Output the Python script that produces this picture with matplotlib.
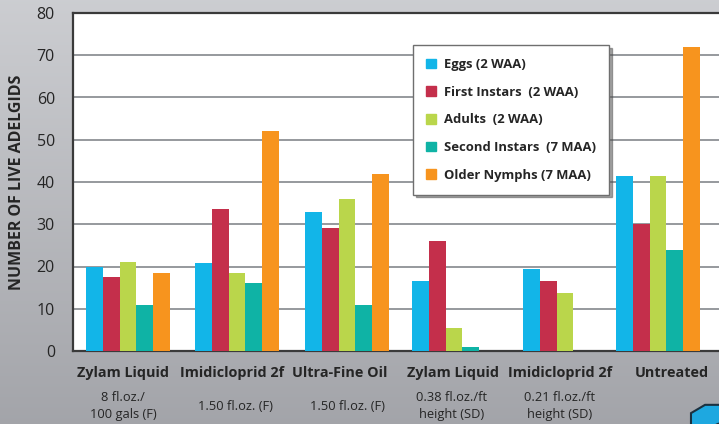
import numpy as np
import matplotlib
matplotlib.use("Agg")
import matplotlib.pyplot as plt
from matplotlib.patches import Rectangle, RegularPolygon, Circle

categories = ["Zylam Liquid", "Imidicloprid 2f", "Ultra-Fine Oil",
              "Zylam Liquid", "Imidicloprid 2f", "Untreated"]
subtitles = ["8 fl.oz./\n100 gals (F)", "1.50 fl.oz. (F)", "1.50 fl.oz. (F)",
             "0.38 fl.oz./ft\nheight (SD)", "0.21 fl.oz./ft\nheight (SD)", ""]
series_names = ["Eggs (2 WAA)", "First Instars  (2 WAA)", "Adults  (2 WAA)",
                "Second Instars  (7 MAA)", "Older Nymphs (7 MAA)"]
eggs = [20, 20.8, 32.8, 16.5, 19.3, 41.5]
first_instars = [17.5, 33.5, 29, 26, 16.5, 30]
adults = [21, 18.5, 36, 5.5, 13.7, 41.5]
second_instars = [11, 16, 11, 1, 0, 24]
older_nymphs = [18.5, 52, 42, 0, 0, 72]
yticks = [0, 10, 20, 30, 40, 50, 60, 70, 80]

series = [eggs, first_instars, adults, second_instars, older_nymphs]
colors = ["#12b5e8", "#c42f4b", "#bad64b", "#0fb3a5", "#f7941e"]

W, H = 719, 424
fig = plt.figure(figsize=(W / 100, H / 100), dpi=100)

# background gradient
bg = fig.add_axes([0, 0, 1, 1], zorder=-10)
grad = np.linspace(0, 1, 256).reshape(-1, 1)
top = np.array([0.80, 0.805, 0.82])
bot = np.array([0.64, 0.645, 0.665])
img = top[None, None, :] * (1 - grad[:, :, None]) + bot[None, None, :] * grad[:, :, None]
bg.imshow(img, aspect="auto", extent=[0, 1, 0, 1])
bg.set_axis_off()

# plot area: pixel x 73..719, y 13..351
left, right_px, top_px, bot_px = 73, 722, 13, 351
aw = right_px - left
ah = bot_px - top_px
ax = fig.add_axes([left / W, (H - bot_px) / H, aw / W, ah / H])
ax.set_facecolor("white")
ax.set_xlim(0, aw)
ax.set_ylim(0, 80)

group_start = [13, 122, 232, 339, 450, 543]
bw = 16.8
for gi in range(len(categories)):
    for si, s in enumerate(series):
        v = s[gi]
        if v > 0:
            ax.bar(group_start[gi] + si * bw, v, width=bw, align="edge",
                   color=colors[si], zorder=3, linewidth=0)

ax.set_yticks(yticks)
ax.yaxis.grid(True, color="#8e9195", linewidth=1.3, zorder=1)
ax.tick_params(axis="y", length=0, pad=13, labelsize=11.5, labelcolor="#252525")
ax.set_xticks([])
for t in ax.get_yticklabels():
    t.set_fontfamily("Open Sans")
for sp in ["left", "bottom", "top"]:
    ax.spines[sp].set_color("#3a3a3a")
    ax.spines[sp].set_linewidth(1.6)
ax.spines["right"].set_visible(False)

ax.set_ylabel("NUMBER OF LIVE ADELGIDS", fontsize=11.5, fontweight="bold",
              fontfamily="Open Sans", color="#252525")
ax.yaxis.set_label_coords((25 - left) / aw, 0.5)

cat_centers = [122.5, 232.5, 339.5, 452.5, 560.5, 672]
sub_centers = [123, 236, 348, 452, 560, 672]
for c, sc, cat, sub in zip(cat_centers, sub_centers, categories, subtitles):
    fig.text(c / W, 1 - 373 / H, cat, ha="center", va="center", fontsize=10.4,
             fontweight="bold", fontfamily="Open Sans", color="#252525")
    if sub:
        fig.text(sc / W, 1 - 406 / H, sub, ha="center", va="center", fontsize=9.3,
                 fontfamily="Open Sans", color="#252525", linespacing=1.35)

# legend
handles = [Rectangle((0, 0), 1, 1, color=c) for c in colors]
leg = ax.legend(handles, series_names, loc="upper left",
                bbox_to_anchor=((413 - left) / aw, 1 - (45 - top_px) / ah),
                frameon=True, fancybox=False, shadow=True, handlelength=0.8, handleheight=0.8,
                handletextpad=0.6, labelspacing=1.13, borderpad=1.0, borderaxespad=0,
                prop={"family": "Open Sans", "weight": "bold", "size": 9.35})
leg.get_frame().set_edgecolor("#6f6f6f")
leg.get_frame().set_linewidth(1.0)
leg.set_zorder(5)
for t in leg.get_texts():
    t.set_color("#252525")

# partial logo in the corner
logo = RegularPolygon((715 / W, 1 - 419 / H), numVertices=8, radius=26 / W,
                      orientation=np.pi / 8, transform=fig.transFigure,
                      facecolor="#1ea8e0", edgecolor="#1b3140", linewidth=1.5, zorder=20)
fig.add_artist(logo)
inner = Circle((725 / W, 1 - 430 / H), radius=13 / W, transform=fig.transFigure,
               facecolor="white", edgecolor="#1b3140", linewidth=1.0, zorder=21)
fig.add_artist(inner)

fig.savefig("out.png", dpi=100)
